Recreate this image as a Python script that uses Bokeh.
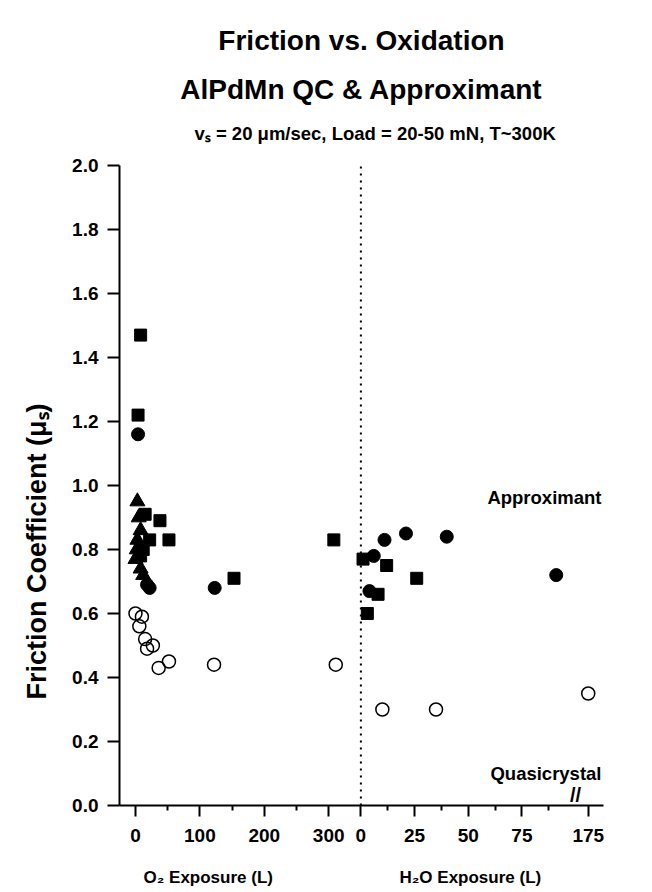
from bokeh.plotting import figure
from bokeh.models import (Range1d, FixedTicker, CustomJSTickFormatter, Label, PrintfTickFormatter,
                          LinearAxis, Title)
from bokeh.embed import file_html
from bokeh.resources import INLINE

# ---------------- data ----------------
# O2 exposure (L) branch
o2_sq_x = [8, 4, 15, 38, 22, 52, 12, 8, 153, 308]
o2_sq_y = [1.47, 1.22, 0.91, 0.89, 0.83, 0.83, 0.80, 0.78, 0.71, 0.83]
o2_ci_x = [4, 18, 22, 123]
o2_ci_y = [1.16, 0.69, 0.68, 0.68]
o2_tri_x = [3, 5, 8, 3, 2, 0, 8, 12]
o2_tri_y = [0.95, 0.90, 0.86, 0.83, 0.80, 0.77, 0.74, 0.72]
o2_qc_x = [0, 10, 6, 15, 18, 27, 36, 52, 122, 311]
o2_qc_y = [0.60, 0.59, 0.56, 0.52, 0.49, 0.50, 0.43, 0.45, 0.44, 0.44]
# H2O exposure (L) branch
h2o_sq_x = [1, 12, 26, 8, 3]
h2o_sq_y = [0.77, 0.75, 0.71, 0.66, 0.60]
h2o_ci_x = [11, 21, 40, 6, 4, 91]
h2o_ci_y = [0.83, 0.85, 0.84, 0.78, 0.67, 0.72]
h2o_qc_x = [10, 35]
h2o_qc_y = [0.30, 0.30]
far_qc_x = [175]
far_qc_y = [0.35]

# axis ticks
o2_ticks = [0, 100, 200, 300]
o2_minor = [50, 150, 250]
h2o_ticks = [0, 25, 50, 75]
h2o_minor = [12.5, 37.5, 62.5, 87.5]
far_ticks = [175]
h2o_zero = [0]
y_ticks = [0.0, 0.2, 0.4, 0.6, 0.8, 1.0, 1.2, 1.4, 1.6, 1.8, 2.0]

title_lines = ["Friction vs. Oxidation", "AlPdMn QC & Approximant"]
subtitle = "vₛ = 20 μm/sec, Load = 20-50 mN, T~300K"
y_label = "Friction Coefficient (μₛ)"
x_labels = ["O₂ Exposure (L)", "H₂O Exposure (L)"]
region_labels = ["Approximant", "Quasicrystal"]

# ---------------- layout of the broken axis ----------------
X_START, X_END = -24.8, 726.7   # main range in O2 units
SPLIT = 350.0                   # O2 position where the H2O scale starts
K = 0.3                         # H2O units per O2 unit
FAR_AT = 703.0                  # O2 position of the 175 tick
BREAK_H2O = 100                 # where the // break mark sits (H2O units)
XLABEL_AT = [113, 520]          # centres of the two x titles (O2 units)

FONT = "Liberation Sans"

p = figure(width=652, height=892, x_range=Range1d(X_START, X_END), y_range=Range1d(0, 2.0),
           output_backend="svg", toolbar_location=None, title=None,
           min_border_left=119, min_border_right=49, min_border_top=163, min_border_bottom=87)
p.extra_x_ranges = {
    "h2o": Range1d((X_START - SPLIT) * K, (X_END - SPLIT) * K),
    "far": Range1d(far_ticks[0] + (X_START - FAR_AT) * K, far_ticks[0] + (X_END - FAR_AT) * K),
}
p.outline_line_color = None
p.grid.grid_line_color = None

major = o2_ticks + [SPLIT + h / K for h in h2o_ticks] + [FAR_AT]
minor = o2_minor + [SPLIT + h / K for h in h2o_minor]
p.xaxis.ticker = FixedTicker(ticks=major, minor_ticks=minor)
p.xaxis.formatter = CustomJSTickFormatter(args=dict(split=SPLIT, k=K, far=FAR_AT, farval=far_ticks[0]), code="""
if (tick < split - 1) return tick.toFixed(0);
if (Math.abs(tick - far) < 1) return String(farval);
return Math.round((tick - split) * k).toFixed(0);
""")
p.yaxis.ticker = FixedTicker(ticks=y_ticks)
p.yaxis.formatter = PrintfTickFormatter(format="%.1f")

for ax in (p.xaxis[0], p.yaxis[0]):
    ax.axis_line_width = 2
    ax.major_tick_line_width = 2
    ax.minor_tick_line_width = 2
    ax.major_tick_in = 0
    ax.minor_tick_in = 0
    ax.major_label_text_font = FONT
    ax.major_label_text_font_style = "bold"
    ax.major_label_text_font_size = "19px"
    ax.major_label_text_color = "black"
    ax.axis_line_color = "black"
    ax.major_tick_line_color = "black"
    ax.minor_tick_line_color = "black"

p.xaxis.major_tick_out = 11
p.xaxis.minor_tick_out = 5
p.xaxis.major_label_standoff = 12
p.yaxis.major_tick_out = 12
p.yaxis.minor_tick_out = 0
p.yaxis.major_label_standoff = 9

# second, tick-less axis carrying the two x titles
xl = LinearAxis(ticker=FixedTicker(ticks=XLABEL_AT, minor_ticks=[]),
                major_label_overrides={XLABEL_AT[0]: x_labels[0], XLABEL_AT[1]: x_labels[1]},
                axis_line_color=None, major_tick_line_color=None, minor_tick_line_color=None,
                major_tick_out=0, major_tick_in=0, minor_tick_out=0, minor_tick_in=0,
                major_label_standoff=23, major_label_text_font=FONT,
                major_label_text_font_style="bold", major_label_text_font_size="17px",
                major_label_text_color="black")
p.add_layout(xl, "below")

# titles (first added sits closest to the plot)
p.add_layout(Title(text=subtitle, align="left", offset=75, text_font=FONT, text_font_style="bold",
                   text_font_size="18.5px", text_color="black", standoff=44), "above")
p.add_layout(Title(text=title_lines[1], align="center", text_font=FONT, text_font_style="bold",
                   text_font_size="28px", text_color="black", standoff=-12), "above")
p.add_layout(Title(text=title_lines[0], align="center", text_font=FONT, text_font_style="bold",
                   text_font_size="28px", text_color="black", standoff=44), "above")
# y title
p.add_layout(Title(text=y_label, align="left", offset=106, text_font=FONT, text_font_style="bold",
                   text_font_size="27px", text_color="black", standoff=36), "left")

# dotted separator at H2O = 0
p.segment(x0=h2o_zero, y0=[0], x1=h2o_zero, y1=[2.0], x_range_name="h2o",
          line_color="black", line_width=2, line_dash="2 5")

# markers
p.scatter(o2_sq_x, o2_sq_y, marker="square", size=12, color="black")
p.scatter(o2_tri_x, o2_tri_y, marker="triangle", size=15, color="black")
p.scatter(o2_ci_x, o2_ci_y, marker="circle", size=13, color="black")
p.scatter(o2_qc_x, o2_qc_y, marker="circle", size=13, fill_color=None, line_color="black", line_width=1.5)
p.scatter(h2o_sq_x, h2o_sq_y, marker="square", size=12, color="black", x_range_name="h2o")
p.scatter(h2o_ci_x, h2o_ci_y, marker="circle", size=13, color="black", x_range_name="h2o")
p.scatter(h2o_qc_x, h2o_qc_y, marker="circle", size=13, fill_color=None, line_color="black",
          line_width=1.5, x_range_name="h2o")
p.scatter(far_qc_x, far_qc_y, marker="circle", size=13, fill_color=None, line_color="black",
          line_width=1.5, x_range_name="far")

# axis break mark
p.add_layout(Label(x=BREAK_H2O, y=0, x_range_name="h2o", text="//", text_align="center",
                   text_baseline="bottom", text_font=FONT, text_font_style="bold",
                   text_font_size="20px", text_color="black"))

# region labels
for txt, yy in zip(region_labels, [308, 32]):
    p.add_layout(Label(x=482, y=yy, x_units="screen", y_units="screen", text=txt,
                       text_align="right", text_baseline="middle", text_font=FONT,
                       text_font_style="bold", text_font_size="18.5px", text_color="black"))

open("out.html", "w").write(file_html(p, INLINE))
